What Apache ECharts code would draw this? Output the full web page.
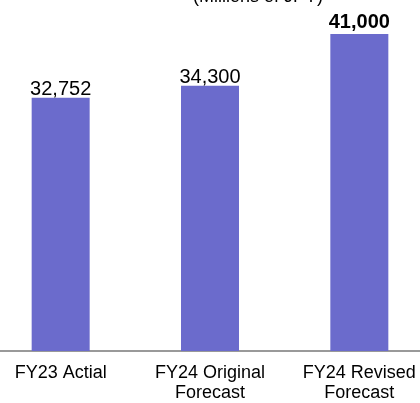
<!DOCTYPE html>
<html>
<head>
<meta charset="utf-8">
<script src="https://cdn.jsdelivr.net/npm/echarts@6/dist/echarts.min.js"></script>
<style>
  html, body { margin: 0; padding: 0; background: #fff; overflow: hidden; }
  /* 图表比窗口稍宽，两侧柱子与参考图对齐 */
  #chart { width: 448px; height: 403px; margin-left: -14px; }
</style>
</head>
<body>
<div id="chart"></div>
<script>
// 类别
const categories = ['FY23 Actial', 'FY24 Original\nForecast', 'FY24 Revised\nForecast']
// 数值 (Millions of JPY)
const values = [32752, 34300, 41000]
// 加粗显示的标签
const boldFlags = [false, false, true]

const chart = echarts.init(document.getElementById('chart'), null, { renderer: 'canvas' })

const FONT = 'Liberation Sans, Arial, sans-serif'

const option = {
  animation: false,
  title: {
    text: '(Millions of JPY)',
    left: 202,
    top: -17,
    textStyle: {
      fontFamily: FONT,
      fontSize: 18,
      fontWeight: 'normal',
      color: '#000'
    }
  },
  grid: {
    left: 0,
    right: 0,
    top: 34,
    bottom: 52
  },
  xAxis: {
    type: 'category',
    data: categories,
    axisLine: { lineStyle: { color: '#999', width: 2 } },
    axisTick: { show: false },
    axisLabel: {
      fontFamily: FONT,
      fontSize: 18,
      color: '#000',
      lineHeight: 20,
      margin: 12,
      interval: 0
    }
  },
  yAxis: {
    type: 'value',
    min: 0,
    max: 41000,
    show: false,
    splitLine: { show: false }
  },
  series: [
    {
      type: 'bar',
      barWidth: 58,
      itemStyle: { color: '#6B6BCC' },
      data: values.map((v, i) => ({
        value: v,
        label: {
          fontWeight: boldFlags[i] ? 'bold' : 'normal',
          distance: boldFlags[i] ? 2 : -2
        }
      })),
      label: {
        show: true,
        position: 'top',
        fontFamily: FONT,
        fontSize: 20,
        color: '#000',
        formatter: p => p.value.toLocaleString('en-US')
      }
    }
  ]
}

chart.setOption(option)
</script>
</body>
</html>
